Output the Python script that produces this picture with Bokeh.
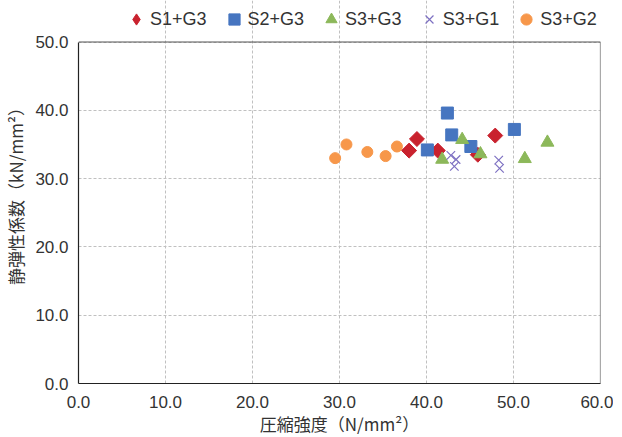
import numpy as np
from bokeh.plotting import figure
from bokeh.models import Range1d, Legend, LegendItem, SingleIntervalTicker, CustomJSTickFormatter
from bokeh.embed import file_html
from bokeh.resources import INLINE

# data
s1g3_x = [38.0, 38.9, 41.3, 45.9, 47.9]
s1g3_y = [34.1, 35.8, 34.1, 33.5, 36.3]
s2g3_x = [40.1, 42.4, 42.9, 45.1, 50.1]
s2g3_y = [34.2, 39.6, 36.4, 34.7, 37.2]
s3g3_x = [41.8, 44.1, 46.2, 51.3, 53.9]
s3g3_y = [32.8, 35.7, 33.6, 32.9, 35.3]
s3g1_x = [42.8, 43.4, 43.2, 48.3, 48.4]
s3g1_y = [33.4, 32.8, 31.8, 32.7, 31.5]
s3g2_x = [29.5, 30.8, 33.2, 35.3, 36.6]
s3g2_y = [33.0, 35.0, 33.9, 33.3, 34.7]

x_title = "圧縮強度（N/mm²）"
y_title = "静弾性係数（kN/mm²）"

X_MAX, Y_MAX = 60, 50
# frame extends above the plot area to hold the legend
Y_TOP = 56.08

p = figure(frame_width=522, frame_height=383, output_backend="svg", toolbar_location=None,
           x_range=Range1d(0, X_MAX), y_range=Range1d(0, Y_TOP),
           min_border_left=71, min_border_right=13, min_border_top=0, min_border_bottom=40)
p.background_fill_color = "white"
p.border_fill_color = "white"
p.outline_line_color = None

for ax in (p.xaxis[0], p.yaxis[0]):
    ax.ticker = SingleIntervalTicker(interval=10)
    ax.formatter = CustomJSTickFormatter(code="return tick.toFixed(1);")
    ax.major_tick_line_color = None
    ax.minor_tick_line_color = None
    ax.axis_line_color = "#222222"
    ax.axis_line_width = 1.2
    ax.major_label_text_font = "Liberation Sans"
    ax.major_label_text_font_size = "17px"
    ax.major_label_text_color = "#333333"
    ax.axis_label_text_font = "Noto Sans CJK JP"
    ax.axis_label_text_font_size = "17px"
    ax.axis_label_text_font_style = "normal"
    ax.axis_label_text_color = "#333333"
p.yaxis.bounds = (0, Y_MAX)
p.xaxis.axis_label = x_title
p.yaxis.axis_label = y_title
p.xaxis.major_label_standoff = 6
p.yaxis.major_label_standoff = 4
p.xaxis.axis_label_standoff = 0
p.yaxis.axis_label_standoff = 4

p.xgrid.bounds = (0, Y_MAX)
p.ygrid.bounds = (0, X_MAX)
for g in (p.xgrid[0], p.ygrid[0]):
    g.grid_line_color = "#c0c0c0"
    g.grid_line_dash = "3 2"
    g.grid_line_width = 1

# plot-area border (top and right)
p.line([0, X_MAX, X_MAX], [Y_MAX, Y_MAX, 0], line_color="#555555", line_width=1.2)

r1 = p.scatter(s1g3_x, s1g3_y, marker="square", angle=np.pi / 4, size=10.6,
               fill_color="#C9222E", line_color="#C9222E")
# hidden twin used only for the legend symbol (diamond shape)
r1_leg = p.scatter(s1g3_x, s1g3_y, marker="diamond", size=15,
                   fill_color="#C9222E", line_color="#C9222E", visible=False)
r2 = p.scatter(s2g3_x, s2g3_y, marker="square", size=12,
               fill_color="#4675C0", line_color="#4675C0")
r3 = p.scatter(s3g3_x, s3g3_y, marker="triangle", size=13,
               fill_color="#8CB85A", line_color="#8CB85A")
r4 = p.scatter(s3g1_x, s3g1_y, marker="x", size=12,
               line_color="#7D70C2", line_width=1.2)
r5 = p.scatter(s3g2_x, s3g2_y, marker="circle", size=11,
               fill_color="#F7974A", line_color="#F7974A")

legend = Legend(items=[LegendItem(label="S1+G3", renderers=[r1_leg]),
                       LegendItem(label="S2+G3", renderers=[r2]),
                       LegendItem(label="S3+G3", renderers=[r3]),
                       LegendItem(label="S3+G1", renderers=[r4]),
                       LegendItem(label="S3+G2", renderers=[r5])],
                orientation="horizontal", location=(44, 350),
                padding=0, margin=0, spacing=13, glyph_width=28, glyph_height=28,
                label_standoff=0, label_text_font="Liberation Sans",
                label_text_font_size="18px", label_text_color="#333333",
                inactive_fill_alpha=0,
                border_line_color=None, background_fill_alpha=0)
p.add_layout(legend, "center")

open("out.html", "w").write(file_html(p, INLINE))
